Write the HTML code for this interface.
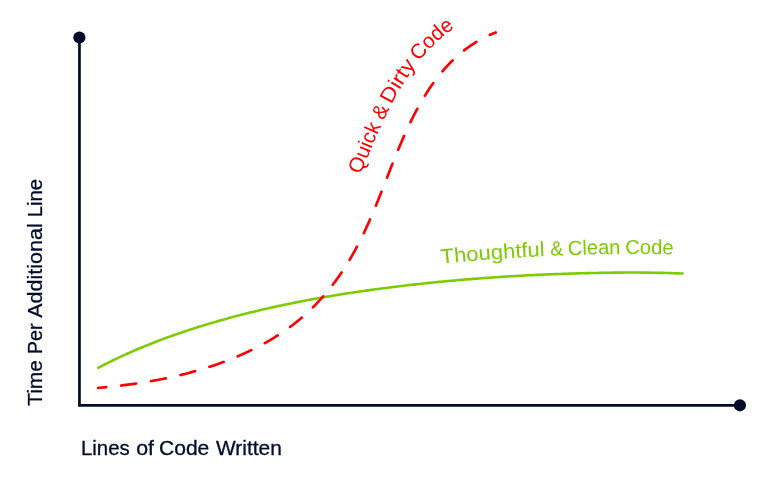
<!DOCTYPE html>
<html lang="en">
<head>
<meta charset="utf-8">
<title>Time Per Additional Line vs Lines of Code Written</title>
<style>
html,body{margin:0;padding:0;background:#fff;}
body{width:767px;height:481px;overflow:hidden;}
svg{display:block;}
text{font-family:"Liberation Sans",sans-serif;}
</style>
</head>
<body>
<svg width="767" height="481" viewBox="0 0 767 481">
<rect width="767" height="481" fill="#ffffff"/>
<defs>
<path id="redBase" d="M96.04,361.99 L98.03,361.81 L100.02,361.63 L102.01,361.45 L104.00,361.26 L105.99,361.06 L107.98,360.86 L109.96,360.65 L111.95,360.43 L113.94,360.21 L115.92,359.98 L117.91,359.75 L119.89,359.50 L121.87,359.26 L123.85,359.00 L125.83,358.74 L127.81,358.47 L129.79,358.19 L131.77,357.91 L133.75,357.62 L135.72,357.32 L137.70,357.01 L139.67,356.70 L141.64,356.38 L143.62,356.05 L145.59,355.71 L147.55,355.36 L149.52,355.01 L151.49,354.65 L153.45,354.28 L155.41,353.90 L157.37,353.51 L159.33,353.11 L161.29,352.71 L163.24,352.29 L165.20,351.87 L167.15,351.44 L169.10,351.00 L171.04,350.55 L172.99,350.09 L174.93,349.62 L176.87,349.14 L178.81,348.65 L180.74,348.15 L182.67,347.64 L184.60,347.12 L186.53,346.59 L188.46,346.06 L190.38,345.51 L192.29,344.95 L194.21,344.37 L196.12,343.79 L198.03,343.20 L199.94,342.60 L201.84,341.98 L203.73,341.36 L205.63,340.72 L207.52,340.07 L209.41,339.41 L211.29,338.74 L213.17,338.06 L215.04,337.37 L216.91,336.66 L218.77,335.94 L220.63,335.21 L222.49,334.47 L224.34,333.71 L226.18,332.95 L228.02,332.17 L229.86,331.38 L231.69,330.57 L233.51,329.75 L235.33,328.92 L237.14,328.08 L238.95,327.22 L240.75,326.35 L242.54,325.47 L244.32,324.57 L246.10,323.66 L247.87,322.73 L249.63,321.79 L251.39,320.83 L253.13,319.86 L254.87,318.88 L256.60,317.87 L258.32,316.86 L260.03,315.82 L261.73,314.78 L263.42,313.71 L265.11,312.63 L266.78,311.53 L268.44,310.42 L270.08,309.29 L271.72,308.14 L273.34,306.98 L274.96,305.80 L276.56,304.60 L278.14,303.39 L279.71,302.15 L281.27,300.90 L282.82,299.63 L284.35,298.35 L285.86,297.05 L287.36,295.73 L288.85,294.39 L290.31,293.03 L291.77,291.66 L293.21,290.27 L294.63,288.87 L296.04,287.45 L297.43,286.02 L298.81,284.57 L300.17,283.11 L301.52,281.63 L302.85,280.14 L304.17,278.64 L305.47,277.13 L306.76,275.60 L308.03,274.06 L309.29,272.50 L310.53,270.94 L311.76,269.36 L312.97,267.78 L314.17,266.18 L315.36,264.57 L316.53,262.95 L317.68,261.32 L318.83,259.68 L319.95,258.03 L321.07,256.37 L322.17,254.70 L323.25,253.02 L324.32,251.34 L325.38,249.64 L326.42,247.94 L327.45,246.22 L328.47,244.50 L329.47,242.77 L330.46,241.04 L331.43,239.29 L332.39,237.54 L333.34,235.78 L334.28,234.02 L335.20,232.25 L336.12,230.47 L337.02,228.69 L337.92,226.90 L338.80,225.11 L339.67,223.31 L340.53,221.51 L341.38,219.70 L342.23,217.89 L343.06,216.07 L343.89,214.25 L344.71,212.43 L345.52,210.60 L346.32,208.77 L347.12,206.94 L347.92,205.11 L348.72,203.28 L349.52,201.45 L350.32,199.61 L351.10,197.78 L351.89,195.94 L352.67,194.10 L353.44,192.26 L354.21,190.41 L354.98,188.57 L355.74,186.72 L356.50,184.87 L357.26,183.02 L358.02,181.17 L358.77,179.32 L359.52,177.47 L360.27,175.62 L361.02,173.77 L361.77,171.92 L362.52,170.06 L363.27,168.21 L364.02,166.36 L364.77,164.51 L365.52,162.65 L366.27,160.80 L367.02,158.95 L367.78,157.10 L368.53,155.25 L369.29,153.40 L370.05,151.55 L370.82,149.71 L371.59,147.86 L372.36,146.02 L373.13,144.18 L373.91,142.34 L374.69,140.50 L375.48,138.66 L376.27,136.83 L377.07,135.00 L377.88,133.17 L378.68,131.34 L379.50,129.51 L380.32,127.69 L381.15,125.87 L381.98,124.06 L382.82,122.24 L383.67,120.43 L384.52,118.63 L385.38,116.82 L386.26,115.03 L387.13,113.23 L388.02,111.44 L388.92,109.65 L389.82,107.87 L390.73,106.09 L391.65,104.32 L392.59,102.55 L393.53,100.79 L394.48,99.03 L395.44,97.28 L396.41,95.54 L397.40,93.80 L398.39,92.06 L399.40,90.34 L400.42,88.62 L401.45,86.91 L402.49,85.20 L403.54,83.50 L404.61,81.81 L405.69,80.13 L406.78,78.46 L407.89,76.79 L409.00,75.14 L410.14,73.49 L411.28,71.85 L412.44,70.23 L413.62,68.61 L414.81,67.01 L416.01,65.41 L417.23,63.83 L418.47,62.26 L419.72,60.70 L420.98,59.15 L422.26,57.61 L423.55,56.09 L424.87,54.58 L426.19,53.09 L427.54,51.61 L428.89,50.14 L430.27,48.69 L431.66,47.26 L433.07,45.84 L434.49,44.44 L435.93,43.05 L437.39,41.68 L438.86,40.33 L440.35,39.00 L441.85,37.68 L443.37,36.38 L444.91,35.11 L446.46,33.85 L448.03,32.61 L449.61,31.39 L451.21,30.19 L452.82,29.01 L454.45,27.86 L456.10,26.72 L457.76,25.61 L459.43,24.52 L461.12,23.45 L462.82,22.40 L464.54,21.38 L466.27,20.38 L468.01,19.40 L469.77,18.45 L471.54,17.52 L473.32,16.62 L475.11,15.74 L476.92,14.88 L478.74,14.05 L480.56,13.24 L482.40,12.46 L484.25,11.70 L486.11,10.97 L487.98,10.26"/>
<path id="greenBase" d="M90.09,352.06 L91.86,351.13 L93.64,350.20 L95.42,349.29 L97.20,348.38 L98.99,347.48 L100.78,346.58 L102.57,345.69 L104.37,344.81 L106.17,343.94 L107.98,343.07 L109.79,342.21 L111.60,341.35 L113.41,340.51 L115.23,339.67 L117.05,338.83 L118.87,338.00 L120.70,337.18 L122.53,336.37 L124.36,335.56 L126.20,334.76 L128.04,333.97 L129.88,333.18 L131.72,332.40 L133.57,331.62 L135.41,330.85 L137.27,330.09 L139.12,329.33 L140.98,328.58 L142.84,327.84 L144.70,327.10 L146.56,326.37 L148.43,325.64 L150.29,324.92 L152.16,324.20 L154.04,323.49 L155.91,322.79 L157.79,322.09 L159.67,321.40 L161.55,320.71 L163.43,320.03 L165.32,319.36 L167.20,318.69 L169.09,318.02 L170.98,317.36 L172.88,316.71 L174.77,316.06 L176.67,315.41 L178.56,314.77 L180.46,314.14 L182.37,313.51 L184.27,312.89 L186.17,312.27 L188.08,311.66 L189.99,311.05 L191.90,310.44 L193.81,309.84 L195.72,309.25 L197.63,308.66 L199.55,308.07 L201.46,307.49 L203.38,306.91 L205.30,306.34 L207.22,305.77 L209.14,305.21 L211.07,304.65 L212.99,304.10 L214.92,303.55 L216.84,303.00 L218.77,302.46 L220.70,301.93 L222.63,301.40 L224.56,300.87 L226.49,300.34 L228.43,299.82 L230.36,299.31 L232.30,298.80 L234.24,298.29 L236.18,297.79 L238.12,297.29 L240.06,296.80 L242.00,296.31 L243.94,295.82 L245.88,295.34 L247.83,294.86 L249.78,294.39 L251.72,293.92 L253.67,293.46 L255.62,292.99 L257.57,292.54 L259.52,292.08 L261.47,291.63 L263.42,291.19 L265.37,290.74 L267.33,290.31 L269.28,289.87 L271.24,289.44 L273.20,289.01 L275.15,288.59 L277.11,288.17 L279.07,287.76 L281.03,287.34 L282.99,286.93 L284.95,286.53 L286.91,286.13 L288.87,285.73 L290.84,285.34 L292.80,284.94 L294.77,284.56 L296.73,284.17 L298.70,283.79 L300.66,283.41 L302.63,283.04 L304.60,282.67 L306.57,282.30 L308.54,281.94 L310.51,281.58 L312.48,281.22 L314.45,280.87 L316.42,280.52 L318.39,280.17 L320.36,279.82 L322.34,279.48 L324.31,279.14 L326.29,278.81 L328.26,278.48 L330.24,278.15 L332.21,277.82 L334.19,277.50 L336.16,277.18 L338.14,276.86 L340.12,276.55 L342.10,276.23 L344.08,275.92 L346.06,275.62 L348.03,275.32 L350.01,275.02 L351.99,274.72 L353.98,274.42 L355.96,274.13 L357.94,273.84 L359.92,273.55 L361.90,273.27 L363.88,272.99 L365.87,272.71 L367.85,272.43 L369.83,272.16 L371.82,271.89 L373.80,271.62 L375.79,271.35 L377.77,271.09 L379.76,270.82 L381.74,270.56 L383.73,270.31 L385.72,270.05 L387.70,269.80 L389.69,269.55 L391.68,269.30 L393.66,269.06 L395.65,268.81 L397.64,268.57 L399.63,268.33 L401.62,268.10 L403.60,267.86 L405.59,267.63 L407.58,267.40 L409.57,267.18 L411.56,266.95 L413.55,266.73 L415.54,266.51 L417.53,266.29 L419.52,266.08 L421.52,265.86 L423.51,265.65 L425.50,265.44 L427.49,265.24 L429.48,265.03 L431.47,264.83 L433.47,264.63 L435.46,264.43 L437.45,264.23 L439.44,264.02 L441.44,263.82 L443.43,263.62 L445.42,263.42 L447.41,263.22 L449.41,263.02 L451.40,262.83 L453.39,262.64 L455.39,262.45 L457.38,262.26 L459.37,262.08 L461.37,261.90 L463.36,261.72 L465.36,261.54 L467.35,261.36 L469.35,261.19 L471.34,261.02 L473.34,260.85 L475.33,260.68 L477.33,260.51 L479.32,260.35 L481.32,260.19 L483.32,260.03 L485.31,259.87 L487.31,259.71 L489.31,259.56 L491.30,259.41 L493.30,259.26 L495.30,259.11 L497.29,258.97 L499.29,258.82 L501.29,258.68 L503.29,258.54 L505.28,258.40 L507.28,258.27 L509.28,258.14 L511.28,258.00 L513.28,257.87 L515.27,257.75 L517.27,257.62 L519.27,257.50 L521.27,257.38 L523.27,257.26 L525.27,257.14 L527.27,257.02 L529.27,256.91 L531.27,256.79 L533.27,256.68 L535.27,256.58 L537.26,256.47 L539.26,256.36 L541.26,256.26 L543.26,256.16 L545.26,256.06 L547.26,255.96 L549.26,255.87 L551.27,255.78 L553.27,255.70 L555.27,255.62 L557.27,255.54 L559.27,255.47 L561.27,255.39 L563.27,255.32 L565.27,255.25 L567.27,255.18 L569.28,255.12 L571.28,255.05 L573.28,254.99 L575.28,254.93 L577.28,254.87 L579.28,254.81 L581.29,254.76 L583.29,254.70 L585.29,254.65 L587.29,254.60 L589.29,254.55 L591.29,254.50 L593.30,254.46 L595.30,254.41 L597.30,254.37 L599.30,254.33 L601.30,254.29 L603.31,254.26 L605.31,254.22 L607.31,254.19 L609.31,254.16 L611.32,254.13 L613.32,254.11 L615.32,254.08 L617.32,254.06 L619.33,254.04 L621.33,254.03 L623.33,254.01 L625.33,254.00 L627.34,253.99 L629.34,253.99 L631.34,253.98 L633.34,253.98 L635.35,253.98 L637.35,253.99 L639.35,254.00 L641.35,254.01 L643.36,254.02 L645.36,254.04 L647.36,254.06 L649.36,254.08 L651.36,254.10 L653.37,254.13 L655.37,254.16 L657.37,254.20 L659.37,254.24 L661.38,254.28 L663.38,254.32 L665.38,254.37 L667.38,254.42 L669.38,254.48 L671.39,254.54 L673.39,254.60 L675.39,254.67 L677.39,254.74 L679.39,254.82 L681.39,254.90 L683.39,254.98"/>
</defs>
<!-- axes -->
<path d="M79.45,37.5 V405.45 H740" fill="none" stroke="#010c2b" stroke-width="2.7" stroke-linejoin="miter"/>
<circle cx="79.4" cy="37.5" r="6.1" fill="#010c2b"/>
<circle cx="739.9" cy="405.3" r="6.1" fill="#010c2b"/>
<!-- curves -->
<path d="M98.37,367.76 L100.14,366.83 L101.91,365.91 L103.69,364.99 L105.47,364.09 L107.25,363.19 L109.04,362.30 L110.83,361.41 L112.63,360.53 L114.42,359.66 L116.23,358.80 L118.03,357.94 L119.84,357.09 L121.65,356.25 L123.46,355.42 L125.28,354.59 L127.10,353.77 L128.93,352.95 L130.75,352.14 L132.58,351.34 L134.42,350.55 L136.25,349.76 L138.09,348.98 L139.93,348.20 L141.77,347.43 L143.62,346.67 L145.47,345.91 L147.32,345.16 L149.17,344.42 L151.03,343.68 L152.89,342.95 L154.75,342.22 L156.62,341.50 L158.48,340.79 L160.35,340.08 L162.22,339.38 L164.09,338.69 L165.97,338.00 L167.84,337.31 L169.72,336.63 L171.60,335.96 L173.49,335.29 L175.37,334.63 L177.26,333.97 L179.15,333.32 L181.04,332.67 L182.93,332.03 L184.82,331.40 L186.72,330.77 L188.61,330.14 L190.51,329.52 L192.41,328.91 L194.32,328.30 L196.22,327.69 L198.12,327.09 L200.03,326.49 L201.94,325.90 L203.85,325.32 L205.76,324.74 L207.67,324.16 L209.59,323.59 L211.50,323.02 L213.42,322.45 L215.34,321.90 L217.26,321.34 L219.18,320.79 L221.10,320.25 L223.02,319.71 L224.94,319.17 L226.87,318.64 L228.80,318.11 L230.73,317.59 L232.65,317.07 L234.58,316.55 L236.52,316.04 L238.45,315.54 L240.38,315.04 L242.32,314.54 L244.25,314.05 L246.19,313.56 L248.13,313.07 L250.07,312.59 L252.01,312.12 L253.95,311.64 L255.89,311.17 L257.83,310.71 L259.78,310.25 L261.72,309.79 L263.67,309.34 L265.61,308.89 L267.56,308.45 L269.51,308.01 L271.46,307.57 L273.41,307.14 L275.36,306.71 L277.31,306.28 L279.26,305.86 L281.22,305.44 L283.17,305.03 L285.13,304.62 L287.08,304.21 L289.04,303.81 L291.00,303.41 L292.95,303.01 L294.91,302.62 L296.87,302.23 L298.83,301.85 L300.79,301.47 L302.76,301.09 L304.72,300.71 L306.68,300.34 L308.64,299.97 L310.61,299.61 L312.57,299.25 L314.54,298.89 L316.50,298.53 L318.47,298.18 L320.44,297.83 L322.40,297.49 L324.37,297.14 L326.34,296.81 L328.31,296.47 L330.28,296.14 L332.25,295.81 L334.22,295.48 L336.19,295.16 L338.16,294.83 L340.14,294.52 L342.11,294.20 L344.08,293.89 L346.05,293.58 L348.03,293.27 L350.00,292.97 L351.98,292.67 L353.95,292.37 L355.93,292.08 L357.91,291.78 L359.88,291.49 L361.86,291.21 L363.84,290.92 L365.81,290.64 L367.79,290.36 L369.77,290.09 L371.75,289.81 L373.73,289.54 L375.71,289.27 L377.69,289.00 L379.67,288.74 L381.65,288.48 L383.63,288.22 L385.61,287.96 L387.59,287.71 L389.57,287.45 L391.55,287.20 L393.54,286.96 L395.52,286.71 L397.50,286.47 L399.48,286.23 L401.47,285.99 L403.45,285.75 L405.44,285.52 L407.42,285.29 L409.40,285.06 L411.39,284.83 L413.37,284.61 L415.36,284.39 L417.35,284.17 L419.33,283.95 L421.32,283.74 L423.30,283.52 L425.29,283.31 L427.28,283.10 L429.26,282.90 L431.25,282.69 L433.24,282.49 L435.23,282.29 L437.21,282.10 L439.20,281.90 L441.19,281.71 L443.18,281.52 L445.17,281.33 L447.16,281.14 L449.15,280.96 L451.13,280.78 L453.12,280.60 L455.11,280.42 L457.10,280.24 L459.09,280.07 L461.08,279.90 L463.07,279.73 L465.07,279.56 L467.06,279.40 L469.05,279.24 L471.04,279.08 L473.03,278.92 L475.02,278.76 L477.01,278.61 L479.00,278.46 L481.00,278.31 L482.99,278.16 L484.98,278.01 L486.97,277.87 L488.97,277.73 L490.96,277.59 L492.95,277.45 L494.95,277.31 L496.94,277.18 L498.93,277.05 L500.92,276.92 L502.92,276.79 L504.91,276.67 L506.91,276.54 L508.90,276.42 L510.89,276.30 L512.89,276.18 L514.88,276.07 L516.88,275.95 L518.87,275.84 L520.87,275.73 L522.86,275.62 L524.86,275.52 L526.85,275.41 L528.85,275.31 L530.84,275.21 L532.84,275.11 L534.83,275.02 L536.83,274.92 L538.82,274.83 L540.82,274.74 L542.81,274.65 L544.81,274.56 L546.80,274.48 L548.80,274.39 L550.80,274.31 L552.79,274.23 L554.79,274.15 L556.78,274.08 L558.78,274.00 L560.78,273.93 L562.77,273.86 L564.77,273.79 L566.77,273.72 L568.76,273.66 L570.76,273.60 L572.76,273.53 L574.75,273.47 L576.75,273.41 L578.75,273.36 L580.74,273.30 L582.74,273.25 L584.74,273.20 L586.73,273.15 L588.73,273.10 L590.73,273.05 L592.73,273.01 L594.72,272.97 L596.72,272.93 L598.72,272.89 L600.71,272.85 L602.71,272.81 L604.71,272.78 L606.71,272.75 L608.70,272.72 L610.70,272.69 L612.70,272.67 L614.70,272.65 L616.69,272.62 L618.69,272.61 L620.69,272.59 L622.69,272.58 L624.68,272.57 L626.68,272.56 L628.68,272.55 L630.68,272.55 L632.68,272.55 L634.67,272.55 L636.67,272.56 L638.67,272.57 L640.67,272.58 L642.66,272.59 L644.66,272.61 L646.66,272.63 L648.66,272.65 L650.65,272.68 L652.65,272.71 L654.65,272.74 L656.65,272.78 L658.64,272.82 L660.64,272.86 L662.64,272.90 L664.63,272.95 L666.63,273.01 L668.63,273.06 L670.62,273.12 L672.62,273.19 L674.62,273.25 L676.61,273.33 L678.61,273.40 L680.61,273.48 L682.60,273.56" fill="none" stroke="#7dcc00" stroke-width="2.6" stroke-linecap="round" stroke-linejoin="round"/>
<path d="M98.26,387.89 L100.25,387.72 L102.24,387.54 L104.23,387.36 L106.22,387.16 L108.21,386.97 L110.20,386.77 L112.19,386.56 L114.17,386.34 L116.16,386.12 L118.14,385.90 L120.13,385.67 L122.11,385.43 L124.10,385.18 L126.08,384.93 L128.06,384.67 L130.04,384.41 L132.02,384.13 L134.00,383.86 L135.98,383.57 L137.95,383.28 L139.93,382.98 L141.90,382.67 L143.88,382.36 L145.85,382.03 L147.82,381.70 L149.79,381.37 L151.76,381.02 L153.73,380.67 L155.69,380.31 L157.66,379.94 L159.62,379.57 L161.58,379.18 L163.54,378.79 L165.50,378.39 L167.45,377.98 L169.41,377.56 L171.36,377.14 L173.31,376.70 L175.26,376.26 L177.21,375.81 L179.15,375.35 L181.09,374.88 L183.03,374.40 L184.97,373.91 L186.91,373.41 L188.84,372.91 L190.77,372.39 L192.70,371.87 L194.62,371.33 L196.55,370.79 L198.47,370.23 L200.38,369.67 L202.30,369.09 L204.21,368.51 L206.12,367.91 L208.02,367.31 L209.92,366.69 L211.82,366.07 L213.71,365.43 L215.61,364.79 L217.49,364.13 L219.38,363.46 L221.26,362.79 L223.13,362.10 L225.00,361.40 L226.87,360.69 L228.74,359.96 L230.59,359.23 L232.45,358.49 L234.30,357.73 L236.14,356.96 L237.98,356.19 L239.82,355.40 L241.65,354.60 L243.48,353.78 L245.30,352.96 L247.11,352.12 L248.92,351.27 L250.72,350.41 L252.52,349.54 L254.31,348.65 L256.10,347.75 L257.87,346.84 L259.65,345.91 L261.41,344.98 L263.17,344.03 L264.92,343.06 L266.66,342.08 L268.40,341.09 L270.12,340.09 L271.84,339.07 L273.55,338.03 L275.25,336.99 L276.95,335.92 L278.63,334.85 L280.31,333.76 L281.97,332.65 L283.63,331.53 L285.27,330.40 L286.91,329.25 L288.53,328.08 L290.14,326.91 L291.75,325.71 L293.34,324.50 L294.92,323.28 L296.48,322.04 L298.04,320.78 L299.58,319.51 L301.11,318.23 L302.63,316.92 L304.13,315.61 L305.62,314.28 L307.10,312.93 L308.56,311.57 L310.01,310.19 L311.45,308.80 L312.87,307.40 L314.28,305.98 L315.67,304.56 L317.06,303.11 L318.43,301.66 L319.78,300.19 L321.13,298.71 L322.46,297.22 L323.77,295.72 L325.08,294.20 L326.37,292.68 L327.64,291.14 L328.91,289.59 L330.16,288.03 L331.40,286.46 L332.62,284.88 L333.83,283.30 L335.03,281.70 L336.22,280.09 L337.39,278.47 L338.55,276.84 L339.70,275.21 L340.83,273.56 L341.96,271.91 L343.06,270.25 L344.16,268.57 L345.24,266.90 L346.31,265.21 L347.37,263.51 L348.42,261.81 L349.45,260.10 L350.47,258.38 L351.48,256.65 L352.47,254.92 L353.45,253.18 L354.43,251.43 L355.38,249.68 L356.33,247.92 L357.27,246.16 L358.20,244.39 L359.11,242.61 L360.02,240.83 L360.91,239.04 L361.80,237.25 L362.68,235.46 L363.54,233.66 L364.40,231.85 L365.25,230.04 L366.09,228.23 L366.92,226.41 L367.75,224.59 L368.57,222.77 L369.38,220.94 L370.18,219.11 L370.98,217.28 L371.77,215.44 L372.55,213.61 L373.33,211.77 L374.10,209.92 L374.87,208.08 L375.64,206.23 L376.39,204.38 L377.15,202.53 L377.90,200.68 L378.65,198.83 L379.39,196.97 L380.13,195.12 L380.87,193.26 L381.61,191.40 L382.34,189.54 L383.07,187.68 L383.80,185.82 L384.53,183.96 L385.26,182.10 L385.99,180.24 L386.72,178.38 L387.45,176.52 L388.18,174.66 L388.91,172.80 L389.64,170.94 L390.37,169.08 L391.10,167.22 L391.84,165.36 L392.58,163.51 L393.32,161.65 L394.06,159.80 L394.81,157.94 L395.56,156.09 L396.31,154.24 L397.07,152.39 L397.84,150.54 L398.60,148.70 L399.38,146.86 L400.15,145.01 L400.94,143.18 L401.73,141.34 L402.52,139.51 L403.32,137.68 L404.13,135.85 L404.95,134.03 L405.77,132.20 L406.60,130.39 L407.44,128.57 L408.28,126.76 L409.14,124.96 L410.00,123.15 L410.88,121.36 L411.76,119.56 L412.65,117.78 L413.55,115.99 L414.46,114.21 L415.39,112.44 L416.32,110.67 L417.27,108.91 L418.22,107.16 L419.19,105.41 L420.17,103.67 L421.16,101.94 L422.17,100.21 L423.19,98.49 L424.22,96.78 L425.27,95.08 L426.33,93.38 L427.40,91.70 L428.49,90.02 L429.60,88.36 L430.72,86.70 L431.86,85.06 L433.01,83.43 L434.18,81.81 L435.36,80.20 L436.57,78.60 L437.79,77.02 L439.02,75.45 L440.28,73.89 L441.55,72.35 L442.84,70.83 L444.15,69.32 L445.47,67.82 L446.82,66.34 L448.18,64.88 L449.57,63.44 L450.97,62.02 L452.39,60.61 L453.83,59.23 L455.29,57.86 L456.77,56.52 L458.26,55.19 L459.78,53.89 L461.32,52.61 L462.87,51.36 L464.44,50.12 L466.04,48.92 L467.64,47.73 L469.27,46.57 L470.92,45.44 L472.58,44.33 L474.26,43.26 L475.96,42.20 L477.68,41.18 L479.41,40.18 L481.16,39.21 L482.92,38.27 L484.70,37.35 L486.49,36.47 L488.29,35.61 L490.11,34.79 L491.95,33.99 L493.79,33.22 L495.65,32.49" fill="none" stroke="#ff0000" stroke-width="2.65" stroke-linecap="round" stroke-linejoin="round" stroke-dasharray="15.060 15.060" stroke-dashoffset="7.080"/>
<!-- curve labels -->
<text font-size="20.8" fill="#ff0000"><textPath href="#redBase" startOffset="348.6" textLength="53.1" lengthAdjust="spacingAndGlyphs">Quick</textPath> <textPath href="#redBase" startOffset="407.2" textLength="13.9" lengthAdjust="spacingAndGlyphs">&amp;</textPath> <textPath href="#redBase" startOffset="425.2" textLength="46.8" lengthAdjust="spacingAndGlyphs">Dirty</textPath> <textPath href="#redBase" startOffset="476.3" textLength="49.7" lengthAdjust="spacingAndGlyphs">Code</textPath></text>
<text font-size="20.6" fill="#7dcc00"><textPath href="#greenBase" startOffset="364.3" textLength="104.0" lengthAdjust="spacingAndGlyphs">Thoughtful</textPath> <textPath href="#greenBase" startOffset="473.8" textLength="12.9" lengthAdjust="spacingAndGlyphs">&amp;</textPath> <textPath href="#greenBase" startOffset="491.3" textLength="52.6" lengthAdjust="spacingAndGlyphs">Clean</textPath> <textPath href="#greenBase" startOffset="548.6" textLength="48.3" lengthAdjust="spacingAndGlyphs">Code</textPath></text>
<!-- axis labels -->
<text y="454.6" font-size="19.4" fill="#010c2b" stroke="#010c2b" stroke-width="0.3" stroke-linejoin="round"><tspan x="80.97" textLength="48.85" lengthAdjust="spacingAndGlyphs">Lines</tspan> <tspan x="136.25" textLength="17.76" lengthAdjust="spacingAndGlyphs">of</tspan> <tspan x="159.00" textLength="50.31" lengthAdjust="spacingAndGlyphs">Code</tspan> <tspan x="216.00" textLength="65.82" lengthAdjust="spacingAndGlyphs">Written</tspan></text>
<text transform="translate(41.8,0) rotate(-90)" font-size="19.4" fill="#010c2b" stroke="#010c2b" stroke-width="0.3" stroke-linejoin="round"><tspan x="-405.77" textLength="45.47" lengthAdjust="spacingAndGlyphs">Time</tspan> <tspan x="-354.24" textLength="30.84" lengthAdjust="spacingAndGlyphs">Per</tspan> <tspan x="-317.75" textLength="94.44" lengthAdjust="spacingAndGlyphs">Additional</tspan> <tspan x="-217.37" textLength="38.36" lengthAdjust="spacingAndGlyphs">Line</tspan></text>
</svg>
</body>
</html>
